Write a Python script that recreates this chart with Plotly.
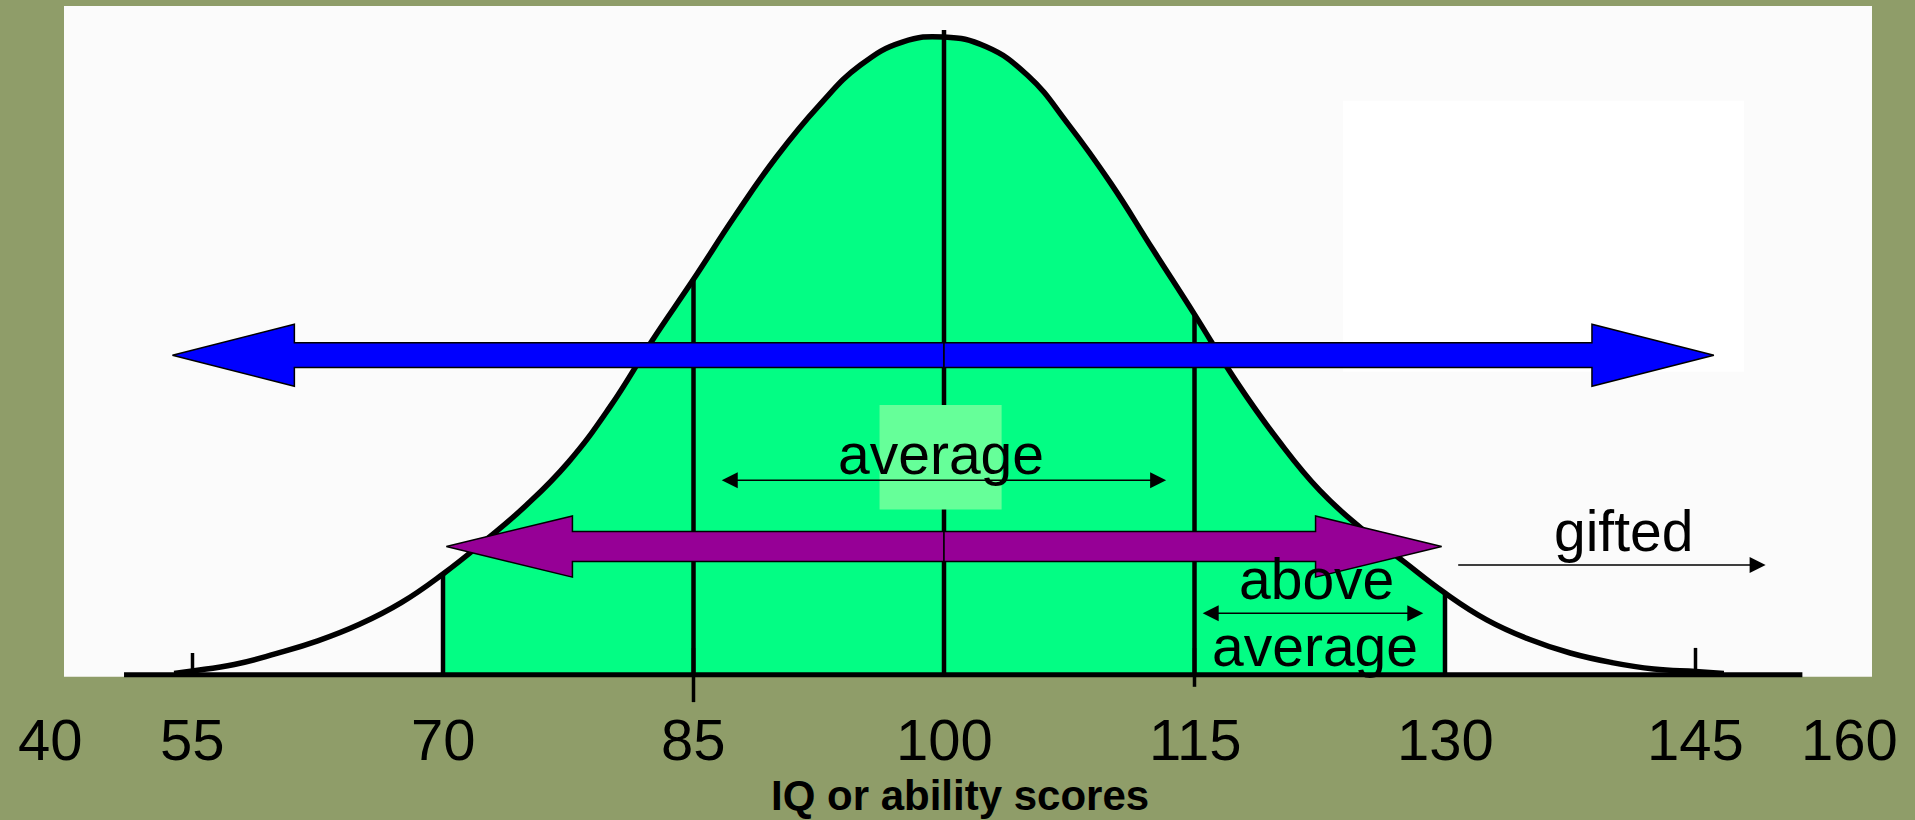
import plotly.graph_objects as go

# IQ curve (height as % of the peak)
iq = [53.9, 55, 57.5, 60, 62.5, 65, 67.5, 70, 72.5, 75, 77.5, 80, 82.5, 85, 87.5,
      90, 92.5, 95, 97.5, 100, 102.5, 105, 107.5, 110, 112.5, 115, 117.5, 120,
      122.5, 125, 127.5, 130, 132.5, 135, 137.5, 140, 142.5, 145, 146.7]
freq = [0.2, 0.6, 1.6, 3.3, 5.3, 7.9, 11.3, 15.8, 21.0, 26.6, 33.3, 42.0, 52.3, 62.0, 72.0,
        81.3, 89.2, 95.6, 99.2, 100, 98.5, 94.0, 86.1, 77.0, 66.7, 56.5, 46.0, 36.8,
        28.9, 22.9, 17.8, 12.8, 8.6, 5.6, 3.4, 1.9, 0.9, 0.5, 0.2]

tick_values = [40, 55, 70, 85, 100, 115, 130, 145, 160]
tick_labels = ["40", "55", "70", "85", "100", "115", "130", "145", "160"]
band_edges = [70, 85, 100, 115, 130]       # vertical lines under the curve
shaded_band = [70, 130]
blue_span = [53.8, 146.1]                  # wide arrow (left tip, right tip)
purple_span = [70.2, 129.8]
average_span = [86.6, 113.3]
above_span = [115.4, 128.7]
gifted_span = [130.7, 149.2]
axis_span = [50.9, 151.4]

# layout helpers (axis ranges chosen so the plot fills the page)
XR = [43.473, 158.144]
YR = [-22.785, 105.80]
FONT = "Liberation Sans, Arial, Helvetica, sans-serif"
OLIVE = "#8f9d69"
GREEN = "#03fd84"

fig = go.Figure()

# green shaded area between 70 and 130
sub = [(x, y) for x, y in zip(iq, freq) if shaded_band[0] <= x <= shaded_band[1]]
fig.add_trace(go.Scatter(
    x=[p[0] for p in sub], y=[p[1] for p in sub],
    mode="lines", line=dict(width=0, shape="spline", smoothing=1.3),
    fill="tozeroy", fillcolor=GREEN, hoverinfo="skip",
))

# the curve
fig.add_trace(go.Scatter(
    x=iq, y=freq, mode="lines",
    line=dict(color="black", width=5.5, shape="spline", smoothing=1.3),
    hoverinfo="skip",
))

# vertical lines up to the curve
lookup = dict(zip(iq, freq))
for v in band_edges:
    top = 101.1 if v == 100 else lookup[v]
    fig.add_trace(go.Scatter(x=[v, v], y=[0, top], mode="lines",
                             line=dict(color="black", width=4.5), hoverinfo="skip"))

# base line and small ticks
fig.add_trace(go.Scatter(x=axis_span, y=[0, 0], mode="lines",
                         line=dict(color="black", width=5), hoverinfo="skip"))
tick_extent = {55: (0, 3.4), 85: (-4.3, 4.2), 115: (-1.9, 4.2), 145: (0, 4.2)}
for v, (lo, hi) in tick_extent.items():
    fig.add_trace(go.Scatter(x=[v, v], y=[lo, hi], mode="lines",
                             line=dict(color="black", width=3.5), hoverinfo="skip"))

# light box behind "average"
bx = [96.14, 103.45]
by = [25.9, 42.3]
fig.add_trace(go.Scatter(
    x=[bx[0], bx[1], bx[1], bx[0], bx[0]], y=[by[0], by[0], by[1], by[1], by[0]],
    mode="lines", fill="toself", fillcolor="#66ff99", line=dict(width=0),
    hoverinfo="skip",
))


def block_arrow(tail, tip, yc, shaft, head, head_len, color):
    d = 1 if tip > tail else -1
    xb = tip - d * head_len
    xs = [tail, xb, xb, tip, xb, xb, tail, tail]
    ys = [yc - shaft, yc - shaft, yc - head, yc, yc + head, yc + shaft, yc + shaft, yc - shaft]
    fig.add_trace(go.Scatter(x=xs, y=ys, mode="lines", fill="toself", fillcolor=color,
                             line=dict(color="black", width=1.5), hoverinfo="skip"))


for tip in blue_span:
    block_arrow(100, tip, 50.1, 1.94, 4.86, 7.3, "#0000ff")
for tip in purple_span:
    block_arrow(100, tip, 20.1, 2.35, 4.8, 7.55, "#960096")


def label(text, x, baseline, size=57, bold=False):
    # baseline is given in data units; shift the box down by the font descent
    fig.add_annotation(
        x=x, y=baseline, xref="x", yref="y", text=f"<b>{text}</b>" if bold else text,
        showarrow=False, xanchor="center", yanchor="bottom", borderpad=0,
        yshift=-(0.212 * size),
        font=dict(family=FONT, size=size, color="black"),
    )


def thin_arrow(span, y, both=True):
    fig.add_annotation(
        x=span[1], y=y, ax=span[0], ay=y, xref="x", yref="y", axref="x", ayref="y",
        text="", showarrow=True, arrowhead=2, arrowsize=2, arrowwidth=1.6,
        arrowcolor="black", arrowside="end+start" if both else "end",
        standoff=0, startstandoff=0,
    )


thin_arrow(average_span, 30.5)
thin_arrow(above_span, 9.63)
thin_arrow(gifted_span, 17.2, both=False)

label("average", 99.8, 31.3, 57)
label("above", 122.3, 11.7, 57)
label("average", 122.2, 1.25, 57)
label("gifted", 140.7, 19.3, 57)

edge_label_x = {40: 46.5, 160: 154.2}
for v, t in zip(tick_values, tick_labels):
    label(t, edge_label_x.get(v, v), -13.45, 58)

label("IQ or ability scores", 100.96, -21.38, 42, bold=True)

fig.update_layout(
    width=1915, height=820,
    margin=dict(l=0, r=0, t=0, b=0),
    paper_bgcolor=OLIVE, plot_bgcolor="rgba(0,0,0,0)",
    showlegend=False, hovermode=False,
    xaxis=dict(range=XR, visible=False, fixedrange=True),
    yaxis=dict(range=YR, visible=False, fixedrange=True),
    shapes=[
        dict(type="rect", xref="paper", yref="paper", layer="below",
             x0=64 / 1915, x1=1872 / 1915, y0=1 - 676.7 / 820, y1=1 - 6 / 820,
             fillcolor="#fbfbfb", line=dict(width=0)),
        dict(type="rect", xref="x", yref="y", layer="below",
             x0=123.9, x1=147.9, y0=47.5, y1=90.0,
             fillcolor="#ffffff", line=dict(width=0)),
    ],
)

fig.write_html(
    "out.html",
    config={"displayModeBar": False},
    post_script="document.body.style.margin='0px';",
)
